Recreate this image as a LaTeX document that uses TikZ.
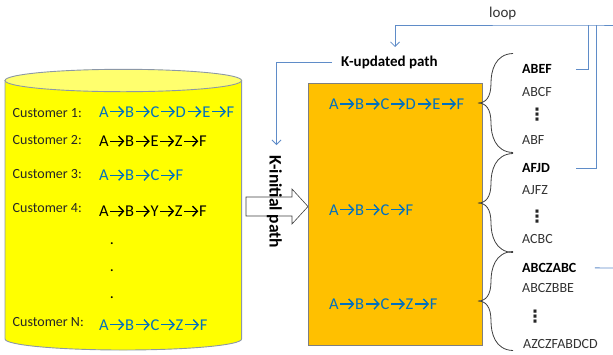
\documentclass[tikz,border=0pt]{standalone}
\usepackage{fontspec}
\setmainfont{Carlito}
\newfontfamily\symfont{DejaVu Sans}
\usetikzlibrary{arrows.meta}

\definecolor{pathblue}{RGB}{0,112,192}
\definecolor{cylfill}{RGB}{255,255,0}
\definecolor{cyltop}{RGB}{255,255,110}
\definecolor{cylline}{RGB}{140,152,166}
\definecolor{boxfill}{RGB}{255,192,0}
\definecolor{boxline}{RGB}{127,127,127}
\definecolor{linkblue}{RGB}{95,140,200}
\definecolor{bracegray}{RGB}{64,64,64}

% bold chevron arrow used between the steps of a path
\newcommand\chevar{\hspace{1pt}\tikz[baseline=0pt]{%
  \draw[line width=1.4pt] (0pt,5.3pt) -- (13pt,5.3pt);
  \draw[line width=1.4pt] (8.2pt,10.4pt) -- (13pt,5.3pt) -- (8.2pt,0.2pt);}\hspace{1pt}}

\tikzset{
  custlabel/.style={anchor=base west, inner sep=0pt, text=black!85,
    font=\fontsize{14}{16}\selectfont},
  seqtxt/.style={anchor=base west, inner sep=0pt,
    font=\fontsize{16.5}{18}\selectfont},
  listtxt/.style={anchor=base west, inner sep=0pt, text=black!80,
    font=\fontsize{14}{16}\selectfont},
  listbold/.style={anchor=base west, inner sep=0pt, text=black,
    font=\fontsize{14}{16}\selectfont\bfseries},
  vdotstxt/.style={anchor=center, inner sep=0pt, text=black!85,
    font=\symfont\bfseries\fontsize{17}{18}\selectfont},
  linkline/.style={draw=linkblue, line width=0.8pt},
  linkarrow/.style={linkline, -{Straight Barb[length=4.5pt,width=9pt]}},
  bracepic/.pic={
    \draw[bracegray, line width=0.8pt]
      (35,-49.5) .. controls (17,-49) and (13,-32) .. (13,-20)
      .. controls (13,-6) and (8,0) .. (0,0)
      .. controls (8,0) and (13,6) .. (13,20)
      .. controls (13,32) and (17,49) .. (35,49.5);
  }
}

\begin{document}
\begin{tikzpicture}[x=1pt, y=-1pt]
\useasboundingbox (0,0) rectangle (613,354);

% database cylinder
\filldraw[fill=cylfill, draw=cylline, line width=0.9pt]
  (5,80.5) -- (5,339) arc[start angle=180, end angle=360, x radius=118.3pt, y radius=11pt]
  -- (241.6,80.5) -- cycle;
\filldraw[fill=cyltop, draw=cylline, line width=0.9pt]
  (123.3,80.5) ellipse [x radius=118.3pt, y radius=11.2pt];

% customer records
\node[custlabel] (cl1) at (12.5,117.5) {Customer 1:};
\node[custlabel] (cl2) at (12.5,144.3) {Customer 2:};
\node[custlabel] (cl3) at (12.5,178.3) {Customer 3:};
\node[custlabel] (cl4) at (12.5,212.7) {Customer 4:};
\node[custlabel] (clN) at (12.5,326.7) {Customer N:};

\node[seqtxt, text=pathblue] (cp1) at (99,117) {A\chevar B\chevar C\chevar D\chevar E\chevar F};
\node[seqtxt, text=black]    (cp2) at (99,146.5) {A\chevar B\chevar E\chevar Z\chevar F};
\node[seqtxt, text=pathblue] (cp3) at (99,180.5) {A\chevar B\chevar C\chevar F};
\node[seqtxt, text=black]    (cp4) at (99,216.5) {A\chevar B\chevar Y\chevar Z\chevar F};
\node[seqtxt, text=pathblue] (cpN) at (99,330) {A\chevar B\chevar C\chevar Z\chevar F};

\node[anchor=base, inner sep=0pt, font=\fontsize{16}{16}\selectfont] (dt1) at (112,244.5) {.};
\node[anchor=base, inner sep=0pt, font=\fontsize{16}{16}\selectfont] (dt2) at (112,271.5) {.};
\node[anchor=base, inner sep=0pt, font=\fontsize{16}{16}\selectfont] (dt3) at (112,298.5) {.};

% hollow block arrow into the path box
\filldraw[fill=white, draw=black!75, line width=0.6pt]
  (246,197) -- (292,197) -- (292,189) -- (308,206.5) -- (292,224)
  -- (292,216) -- (246,216) -- cycle;
\node[rotate=-90, anchor=base west, inner sep=0pt,
  font=\fontsize{17.5}{18}\selectfont\bfseries] (kinit) at (269.5,155) {K-initial path};

% path box
\node[draw=boxline, fill=boxfill, line width=0.8pt, anchor=north west, inner sep=0pt,
  minimum width=174pt, minimum height=262pt] (pbox) at (308,83) {};
\node[seqtxt, text=pathblue] (bp1) at (329,109.3) {A\chevar B\chevar C\chevar D\chevar E\chevar F};
\node[seqtxt, text=pathblue] (bp2) at (329,215) {A\chevar B\chevar C\chevar F};
\node[seqtxt, text=pathblue] (bp3) at (329,309.3) {A\chevar B\chevar C\chevar Z\chevar F};

% braces
\pic (br1) at (478,103) {bracepic};
\pic (br2) at (478,203) {bracepic};
\pic (br3) at (478,301) {bracepic};

% candidate lists
\node[listbold] (abef) at (522,73.5) {ABEF};
\node[listtxt]  (abcf) at (522,96) {ABCF};
\node[vdotstxt] (vd1) at (537,115) {⋮};
\node[listtxt]  (abf) at (522,144.3) {ABF};

\node[listbold] (afjd) at (522,172.6) {AFJD};
\node[listtxt]  (ajfz) at (522,194.4) {AJFZ};
\node[vdotstxt] (vd2) at (537,217) {⋮};
\node[listtxt]  (acbc) at (522,243.8) {ACBC};

\node[listbold] (abczabc) at (522,272.4) {ABCZABC};
\node[listtxt]  (abczbbe) at (522,292.6) {ABCZBBE};
\node[vdotstxt] (vd3) at (535,317) {⋮};
\node[listtxt]  (azcz) at (523,348.3) {AZCZFABDCD};

% K-updated path feeding back down to the initial path
\node[anchor=base west, inner sep=0pt, font=\fontsize{15}{16}\selectfont\bfseries]
  (kup) at (341,66.5) {K-updated path};
\coordinate (kinIn) at (276.5,145);
\draw[linkarrow] ([xshift=-9pt]kup.west) -| (kinIn);

% loop back from the selected candidates
\node[anchor=base west, inner sep=0pt, font=\fontsize{15}{16}\selectfont, text=black!80]
  (looplbl) at (489,17.3) {loop};
\coordinate (loopA) at (588,25);
\coordinate (loopB) at (596,25);
\coordinate (loopEdge) at (613,25);
\coordinate (loopIn) at (395,47);
\draw[linkline] ([xshift=24pt]abef.east) -| (loopA);
\draw[linkline] ([xshift=26pt]afjd.east) -| (loopB);
\draw[linkarrow] (loopEdge) -- (loopB) -- (loopA) -| (loopIn);
\coordinate (abcEdge) at (613,268);
\draw[linkline] ([xshift=18.5pt]abczabc.east) -- (abcEdge);
\end{tikzpicture}
\end{document}
